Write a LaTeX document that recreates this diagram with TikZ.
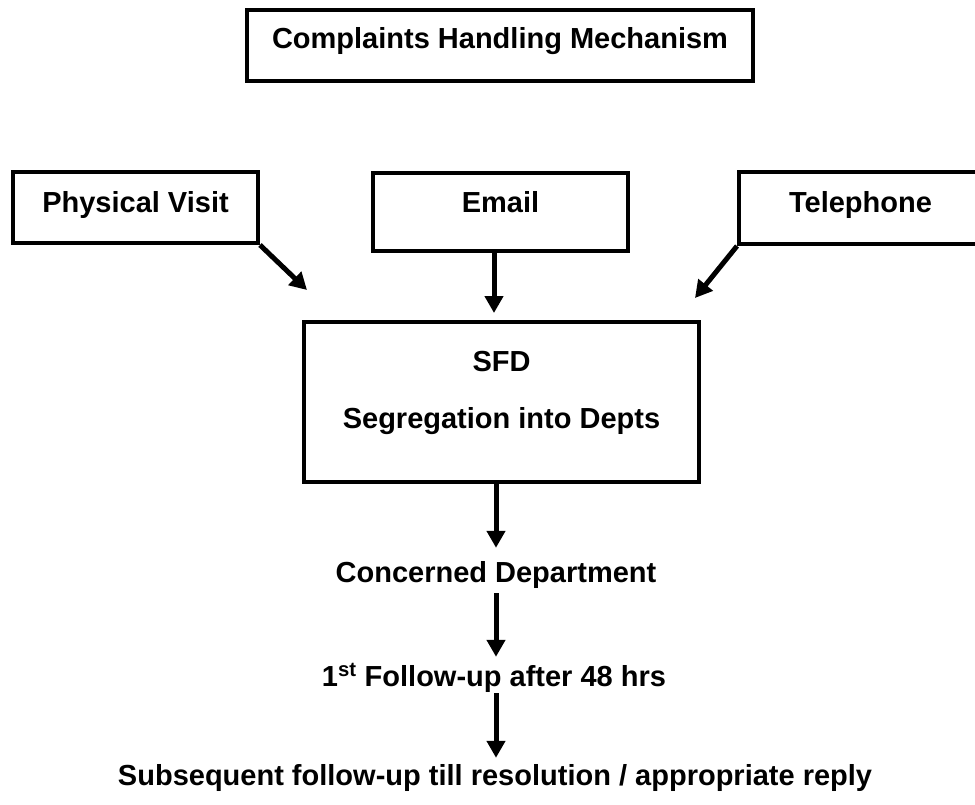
\documentclass[tikz,border=0pt]{standalone}
\usepackage{fontspec}
\setmainfont{Liberation Sans}
\usetikzlibrary{positioning,arrows.meta}

\begin{document}
\begin{tikzpicture}[x=1pt,y=-1pt,
        font=\fontsize{29}{34}\selectfont\bfseries,
        box/.style={draw,line width=4pt,inner sep=0pt},
        lbl/.style={inner sep=0pt,text height=20pt,text depth=6pt,anchor=base},
        flow/.style={-{Triangle[length=17pt,width=18pt]},line width=5pt}]
            \clip (0,0) rectangle (975,804);

            \node[box,minimum width=506pt,text height=38pt,text depth=33pt] (title) at (500,45.5) {Complaints Handling Mechanism};

            \node[box,minimum width=245pt,text height=40pt,text depth=31pt] (visit) at (135.5,207.5) {Physical Visit};
            \node[box,minimum width=255pt,text height=39pt,text depth=39pt] (email) at (500.5,212) {Email};
            \node[box,minimum width=243pt,text height=40pt,text depth=32pt] (phone) at (860.5,208) {Telephone};

            \node[box,minimum width=395pt,minimum height=160pt] (sfd) at (501.5,402) {};
            \node[lbl] (sfdname) at (501.5,371) {SFD};
            \node[lbl] (sfdtask) at (501.5,428) {Segregation into Depts};

            \node[lbl] (dept) at (496,582) {Concerned Department};
            \node[lbl] (follow) at (494,686) {1\textsuperscript{st} Follow-up after 48 hrs};
            \node[lbl] (final) at (495,785) {Subsequent follow-up till resolution / appropriate reply};

            \coordinate (visitin) at (307,290);
            \coordinate (phonein) at (695,298);

            \draw[flow] (visit.south east) -- (visitin);
            \draw[flow] (phone.south west) -- (phonein);
            \draw[flow,shorten >=7pt] ([xshift=-6.5pt]email.south) -- ([xshift=-7.5pt]sfd.north);

            \draw[flow,shorten >=14pt] (sfd.south -| dept) -- (dept.north);
            \draw[flow,shorten <=5pt,shorten >=9pt] (dept.south) -- (dept.south |- follow.north);
            \draw[flow,shorten <=1pt,shorten >=7pt] (dept.south |- follow.south) -- (dept.south |- final.north);

        \end{tikzpicture}
\end{document}
